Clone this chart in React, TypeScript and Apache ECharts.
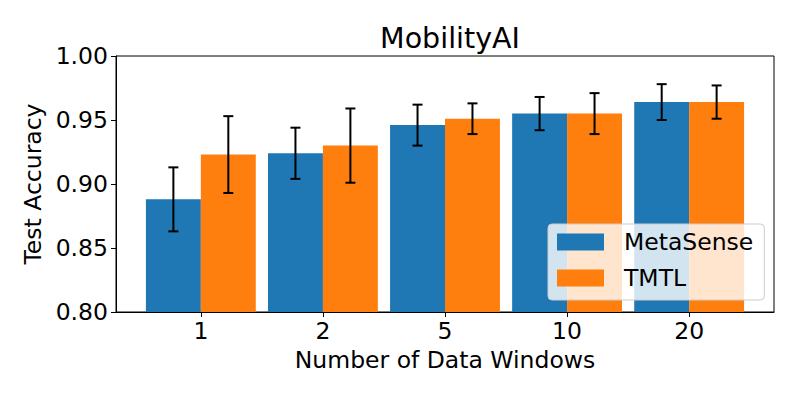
import React, { useEffect, useRef } from "react";
import * as echarts from "echarts";

const categories = ["1", "2", "5", "10", "20"];
const seriesNames = ["MetaSense", "TMTL"];
const metaSense = [0.888, 0.924, 0.946, 0.955, 0.964];
const metaSenseErr = [0.025, 0.020, 0.016, 0.013, 0.014];
const tmtl = [0.923, 0.930, 0.951, 0.955, 0.964];
const tmtlErr = [0.030, 0.029, 0.012, 0.016, 0.013];
const yTicks = [0.8, 0.85, 0.9, 0.95, 1.0];

const colors = ["#1f77b4", "#ff7f0e"];
const FONT = "DejaVu Sans";
const FS = 23.5;
const BAR_W = 0.45;

function makeSeries(name: string, vals: number[], errs: number[], idx: number, color: string) {
  const off = idx === 0 ? -BAR_W / 2 : BAR_W / 2;
  return {
    name,
    type: "custom",
    itemStyle: { color },
    data: vals.map((v, i) => [i, v, errs[i]]),
    encode: { x: 0, y: 1 },
    z: 2,
    renderItem: (params: any, api: any) => {
      const x = api.value(0) + off;
      const v = api.value(1);
      const e = api.value(2);
      const p1 = api.coord([x - BAR_W / 2, v]);
      const p2 = api.coord([x + BAR_W / 2, 0.8]);
      const top = api.coord([x, v + e]);
      const bot = api.coord([x, v - e]);
      const cap = 5;
      return {
        type: "group",
        children: [
          {
            type: "rect",
            shape: { x: p1[0], y: p1[1], width: p2[0] - p1[0], height: p2[1] - p1[1] },
            style: { fill: color },
          },
          {
            type: "line",
            shape: { x1: top[0], y1: top[1], x2: bot[0], y2: bot[1] },
            style: { stroke: "#000", lineWidth: 2 },
          },
          {
            type: "line",
            shape: { x1: top[0] - cap, y1: top[1], x2: top[0] + cap, y2: top[1] },
            style: { stroke: "#000", lineWidth: 2 },
          },
          {
            type: "line",
            shape: { x1: bot[0] - cap, y1: bot[1], x2: bot[0] + cap, y2: bot[1] },
            style: { stroke: "#000", lineWidth: 2 },
          },
        ],
      };
    },
  };
}

export default function App() {
  const ref = useRef<HTMLDivElement>(null);
  useEffect(() => {
    const chart = echarts.init(ref.current!, undefined, { renderer: "svg" });
    const option: any = {
      animation: false,
      backgroundColor: "#fff",
      textStyle: { fontFamily: FONT },
      title: {
        text: "MobilityAI",
        left: 445,
        textAlign: "center",
        top: 19,
        textStyle: { fontFamily: FONT, fontSize: 28.5, fontWeight: "normal", color: "#000" },
      },
      grid: {
        left: 116,
        right: 26,
        top: 56,
        bottom: 86,
        show: true,
        borderColor: "#000",
        borderWidth: 1,
        backgroundColor: "transparent",
      },
      legend: {
        data: seriesNames.map((n) => ({ name: n, icon: "rect" })),
        orient: "vertical",
        left: 548,
        top: 224,
        itemWidth: 47,
        itemHeight: 17,
        itemGap: 12,
        padding: [6, 11, 10, 9],
        backgroundColor: "rgba(255,255,255,0.8)",
        borderColor: "#cccccc",
        borderWidth: 1,
        borderRadius: 4,
        textStyle: { fontFamily: FONT, fontSize: FS, lineHeight: 24, color: "#000", padding: [0, 0, 0, 15] },
        z: 10,
      },
      xAxis: {
        type: "value",
        min: -0.695,
        max: 4.695,
        name: "Number of Data Windows",
        nameLocation: "middle",
        nameGap: 32,
        nameTextStyle: { fontFamily: FONT, fontSize: FS, color: "#000" },
        splitLine: { show: false },
        axisLine: { show: true, onZero: false, lineStyle: { color: "#000", width: 1 } },
        axisTick: { show: true, inside: false, length: 5, lineStyle: { color: "#000" }, customValues: [0, 1, 2, 3, 4] },
        axisLabel: {
          fontFamily: FONT,
          fontSize: FS,
          color: "#000",
          margin: 7,
          customValues: [0, 1, 2, 3, 4],
          formatter: (v: number) => categories[Math.round(v)] ?? "",
        },
      },
      yAxis: {
        type: "value",
        min: 0.8,
        max: 1.0,
        interval: 0.05,
        name: "Test Accuracy",
        nameLocation: "middle",
        nameGap: 70,
        nameTextStyle: { fontFamily: FONT, fontSize: FS, color: "#000" },
        splitLine: { show: false },
        axisLine: { show: true, onZero: false, lineStyle: { color: "#000", width: 1 } },
        axisTick: { show: true, length: 5, lineStyle: { color: "#000" } },
        axisLabel: {
          fontFamily: FONT,
          fontSize: FS,
          color: "#000",
          margin: 8,
          customValues: yTicks,
          formatter: (v: number) => v.toFixed(2),
        },
      },
      series: [
        makeSeries(seriesNames[0], metaSense, metaSenseErr, 0, colors[0]),
        makeSeries(seriesNames[1], tmtl, tmtlErr, 1, colors[1]),
      ],
    };
    chart.setOption(option);
    return () => chart.dispose();
  }, []);
  return <div ref={ref} style={{ width: 800, height: 398, position: "absolute", left: 0, top: 0 }} />;
}
